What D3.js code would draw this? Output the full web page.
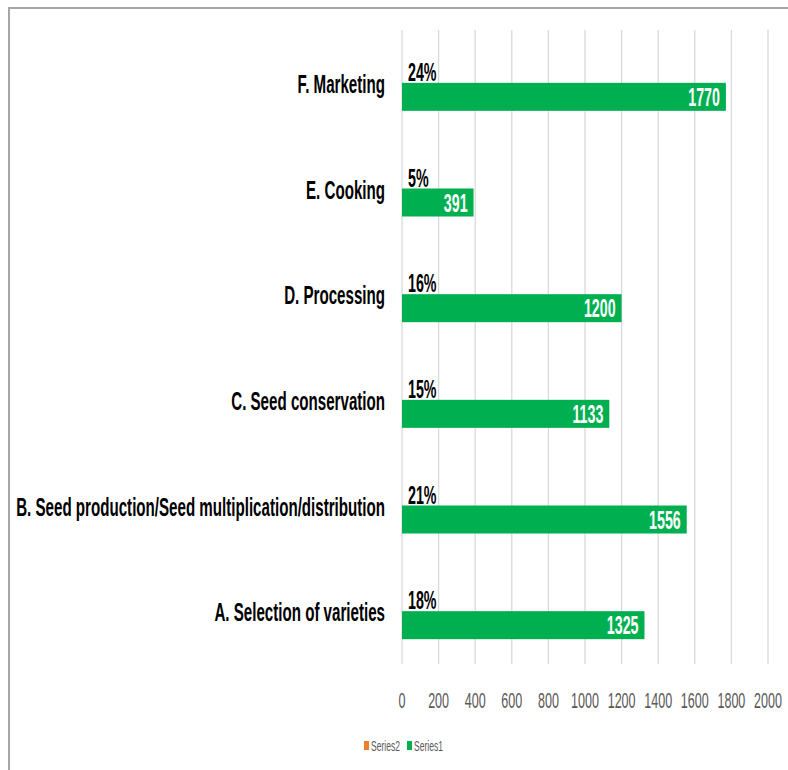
<!DOCTYPE html>
<html>
<head>
<meta charset="utf-8">
<script src="https://cdn.jsdelivr.net/npm/d3@7"></script>
<style>
  html, body { margin: 0; padding: 0; background: #fff; }
  svg { display: block; }
  text { font-family: "Liberation Sans", Arial, sans-serif; }
</style>
</head>
<body>
<div id="chart"></div>
<script>
// data, top to bottom as drawn
const categories = ["F. Marketing", "E. Cooking", "D. Processing", "C. Seed conservation",
  "B. Seed production/Seed multiplication/distribution", "A. Selection of varieties"];
const series1 = [1770, 391, 1200, 1133, 1556, 1325];
const series2Labels = ["24%", "5%", "16%", "15%", "21%", "18%"];
const seriesNames = ["Series2", "Series1"];
const xTicks = [0, 200, 400, 600, 800, 1000, 1200, 1400, 1600, 1800, 2000];

const width = 788, height = 770;
const sx = 0.57; // the text in the picture is squeezed sideways

const svg = d3.select("#chart").append("svg")
  .attr("width", width)
  .attr("height", height);

// frame (only top and left edges show)
svg.append("path")
  .attr("d", `M9,${height}V8H${width}`)
  .attr("fill", "none")
  .attr("stroke", "#a6a6a6")
  .attr("stroke-width", 2);

const x = d3.scaleLinear().domain([0, 2000]).range([402, 768]);
const y = d3.scaleBand().domain(categories).range([30, 664]);
const bw = y.bandwidth();
const barH = bw * 0.265;
const sub = d3.scaleBand().domain(seriesNames)
  .range([bw / 2 - barH, bw / 2 + barH]);

const color = { Series1: "#00b050", Series2: "#ed7d31" };

function label(g, tx, ty, str, opts) {
  const t = g.append("g").attr("transform", `translate(${tx},${ty})`)
    .append("text")
    .attr("transform", `scale(${opts.sx || sx},1)`)
    .attr("text-anchor", opts.anchor || "start")
    .attr("font-size", opts.size)
    .attr("font-weight", opts.weight || "normal")
    .attr("fill", opts.fill || "#000")
    .text(str);
  return t;
}

// gridlines
svg.append("g").selectAll("line")
  .data(xTicks)
  .join("line")
  .attr("x1", d => x(d)).attr("x2", d => x(d))
  .attr("y1", 30).attr("y2", 664)
  .attr("stroke", "#d9d9d9")
  .attr("stroke-width", 1.3);

// tick labels
const tickG = svg.append("g");
xTicks.forEach(t => label(tickG, x(t), 708, t, { anchor: "middle", size: 22, fill: "#595959" }));

// bars
const barG = svg.append("g");
barG.selectAll("rect")
  .data(series1)
  .join("rect")
  .attr("x", x(0))
  .attr("y", (d, i) => y(categories[i]) + sub("Series1"))
  .attr("width", d => x(d) - x(0))
  .attr("height", sub.bandwidth())
  .attr("fill", color.Series1);

const textG = svg.append("g");
categories.forEach((c, i) => {
  const top = y(c);
  // category label
  label(textG, 385, top + bw / 2 + 10, c, { anchor: "end", size: 25, weight: "bold", sx: 0.605 });
  // percent label (Series2 slot)
  label(textG, x(0) + 6, top + sub("Series2") + sub.bandwidth() - 2, series2Labels[i],
    { size: 25, weight: "bold" });
  // value label inside bar end
  label(textG, x(series1[i]) - 6, top + sub("Series1") + sub.bandwidth() / 2 + 9, series1[i],
    { anchor: "end", size: 25, weight: "bold", fill: "#fff" });
});

// legend
const legG = svg.append("g");
const legItems = [{ name: "Series2", x: 364 }, { name: "Series1", x: 407 }];
legItems.forEach(it => {
  legG.append("rect")
    .attr("x", it.x).attr("y", 741)
    .attr("width", 5).attr("height", 9)
    .attr("fill", color[it.name]);
  label(legG, it.x + 7, 751, it.name, { size: 15, fill: "#595959" });
});
</script>
</body>
</html>
